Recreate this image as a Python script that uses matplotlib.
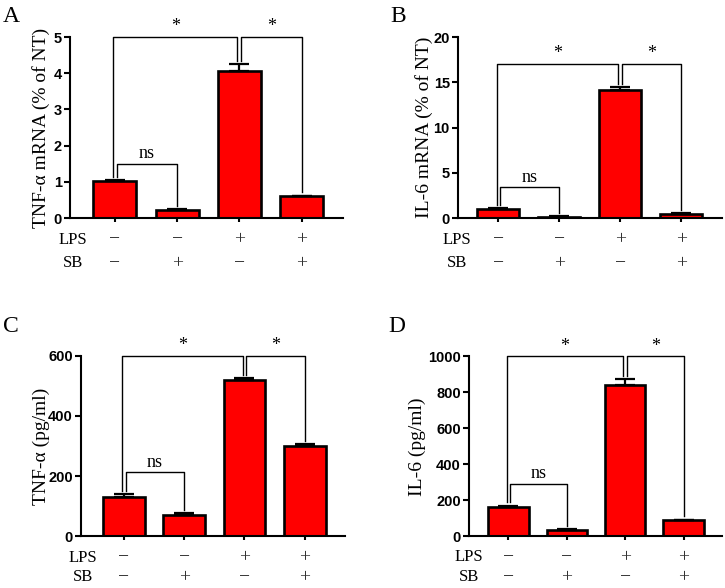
import matplotlib
matplotlib.use("Agg")
import matplotlib.pyplot as plt

plt.rcParams["font.family"] = "Liberation Serif"

RED = "#ff0000"

lps = ["\u2212", "\u2212", "+", "+"]
sb = ["\u2212", "+", "\u2212", "+"]

# panel data: values, upper errors, y ticks, bracket heights
tnf_mrna = [1.02, 0.23, 4.05, 0.60]
tnf_mrna_err = [0.03, 0.02, 0.20, 0.02]
il6_mrna = [1.05, 0.18, 14.2, 0.50]
il6_mrna_err = [0.06, 0.03, 0.30, 0.04]
tnf_pg = [130, 72, 518, 300]
tnf_pg_err = [10, 5, 7, 5]
il6_pg = [160, 35, 838, 88]
il6_pg_err = [10, 4, 35, 5]

panels = [
    dict(letter="A", vals=tnf_mrna, err=tnf_mrna_err, ticks=[0, 1, 2, 3, 4, 5],
         top=5, ns=1.5, ylabel="TNF-\u03b1 mRNA (% of NT)",
         rect=[0.0966, 0.629, 0.376, 0.308], lab_x=-0.075, xlim=(-0.72, 3.66), sb_y=-0.25),
    dict(letter="B", vals=il6_mrna, err=il6_mrna_err, ticks=[0, 5, 10, 15, 20],
         top=17, ns=3.4, ylabel="IL-6 mRNA (% of NT)",
         rect=[0.632, 0.629, 0.364, 0.308], lab_x=-0.094, xlim=(-0.66, 3.67), sb_y=-0.25),
    dict(letter="C", vals=tnf_pg, err=tnf_pg_err, ticks=[0, 200, 400, 600],
         top=600, ns=212, ylabel="TNF-\u03b1 (pg/ml)",
         rect=[0.112, 0.088, 0.364, 0.307], lab_x=-0.12, xlim=(-0.71, 3.67), sb_y=-0.228),
    dict(letter="D", vals=il6_pg, err=il6_pg_err, ticks=[0, 200, 400, 600, 800, 1000],
         top=1000, ns=290, ylabel="IL-6 (pg/ml)",
         rect=[0.647, 0.088, 0.349, 0.306], lab_x=-0.172, xlim=(-0.675, 3.66), sb_y=-0.228),
]

fig = plt.figure(figsize=(7.25, 5.88), dpi=100)

for p in panels:
    ax = fig.add_axes(p["rect"])
    x = list(range(len(p["vals"])))
    ymax = p["ticks"][-1]
    ax.bar(x, p["vals"], width=0.69, color=RED, edgecolor="black", linewidth=1.9, zorder=2)
    ax.errorbar(x, p["vals"], yerr=[[0] * 4, p["err"]], fmt="none", ecolor="black",
                elinewidth=1.6, capsize=7, capthick=1.6, zorder=3)
    ax.set_ylim(0, ymax)
    ax.set_xlim(*p["xlim"])
    ax.set_yticks(p["ticks"])
    ax.set_xticks(x)
    ax.set_xticklabels([])
    for s in ["top", "right"]:
        ax.spines[s].set_visible(False)
    for s in ["left", "bottom"]:
        ax.spines[s].set_linewidth(1.5)
    ax.tick_params(axis="y", direction="out", length=4, width=1.5, pad=2)
    ax.tick_params(axis="x", direction="out", length=3, width=1.5)
    for lab in ax.get_yticklabels():
        lab.set_fontfamily("Liberation Sans")
        lab.set_fontweight("bold")
        lab.set_fontsize(10.5)
    ax.set_ylabel(p["ylabel"], fontsize=14)
    ax.yaxis.set_label_coords(p["lab_x"], 0.5)

    tops = [v + e for v, e in zip(p["vals"], p["err"])]
    gap = 0.018 * ymax
    lw = 1.0
    # bracket 1 vs 3
    h = p["top"]
    ax.plot([-0.03, -0.03, 1.97, 1.97], [tops[0] + gap, h, h, tops[2] + gap],
            color="black", lw=lw, zorder=4, clip_on=False)
    ax.text(0.97, h + 0.01 * ymax, "*", ha="center", va="bottom", fontsize=13)
    # bracket 3 vs 4
    ax.plot([2.03, 2.03, 3.0, 3.0], [tops[2] + gap, h, h, tops[3] + gap],
            color="black", lw=lw, zorder=4, clip_on=False)
    ax.text(2.515, h + 0.01 * ymax, "*", ha="center", va="bottom", fontsize=13)
    # ns bracket 1 vs 2
    h = p["ns"]
    ax.plot([0.03, 0.03, 1.0, 1.0], [tops[0] + gap, h, h, tops[1] + gap],
            color="black", lw=lw, zorder=4)
    ax.text(0.515, h + 0.01 * ymax, "ns", ha="center", va="bottom", fontsize=13)

    trans = ax.get_xaxis_transform()
    ax.text(-0.68, -0.118, "LPS", transform=trans, ha="center", va="center", fontsize=12)
    ax.text(-0.68, p["sb_y"], "SB", transform=trans, ha="center", va="center", fontsize=12)
    for i in x:
        ax.text(i, -0.118, lps[i], transform=trans, ha="center", va="center",
                fontsize=14, color="#333333")
        ax.text(i, p["sb_y"], sb[i], transform=trans, ha="center", va="center",
                fontsize=14, color="#333333")

fig.text(0.004, 0.99, "A", fontsize=17, va="top", ha="left")
fig.text(0.538, 0.99, "B", fontsize=17, va="top", ha="left")
fig.text(0.004, 0.462, "C", fontsize=17, va="top", ha="left")
fig.text(0.535, 0.462, "D", fontsize=17, va="top", ha="left")

fig.savefig("out.png", dpi=100)
